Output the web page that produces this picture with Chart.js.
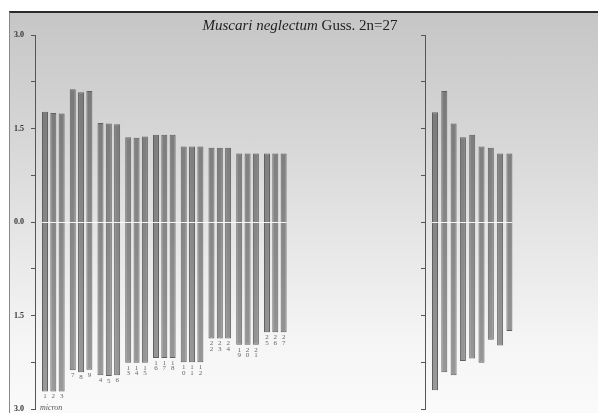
<!DOCTYPE html>
<html>
<head>
    <title>Muscari neglectum karyotype</title>
    <style>
        body {
            margin: 0;
            width: 598px;
            height: 413px;
            overflow: hidden;
            background: #fff;
            font-family: "Liberation Serif", "DejaVu Serif", serif;
        }
        .frame {
            position: absolute;
            left: 9px;
            top: 11px;
            width: 600px;
            height: 410px;
            border-top: 2px solid #2a2a2a;
            border-left: 1px solid #888;
            background: linear-gradient(to bottom, #c6c6c6 0%, #d6d6d6 30%, #e6e6e6 55%, #f5f5f5 80%, #fbfbfb 100%);
        }
        canvas {
            position: absolute;
            left: 0;
            top: 0;
        }
        .title {
            position: absolute;
            top: 17px;
            left: 0;
            width: 600px;
            text-align: center;
            font-size: 15px;
            color: #222;
        }
        .unit {
            position: absolute;
            left: 40px;
            top: 403px;
            font-size: 8px;
            font-style: italic;
            color: #555;
        }
    </style>
</head>
<body>
    <div class="frame"></div>
    <div style="position:absolute;left:0;top:0;width:598px;height:430px">
        <canvas id="karyo-chart"></canvas>
    </div>
    <div style="position:absolute;left:0;top:0;width:598px;height:430px">
        <canvas id="ideo-chart"></canvas>
    </div>
    <div class="title"><i>Muscari neglectum</i> Guss. 2n=27</div>
    <div class="unit">micron</div>

    <script src="https://cdn.jsdelivr.net/npm/chart.js"></script>
    <script>
        // chromosome numbers, in the order they are drawn (3 homologues per group)
        const chromLabels = ['1', '2', '3', '7', '8', '9', '4', '5', '6',
                             '13', '14', '15', '16', '17', '18', '10', '11', '12',
                             '22', '23', '24', '19', '20', '21', '25', '26', '27'];
        // short arm length (micron), drawn upward
        const shortArm = [1.77, 1.75, 1.74, 2.13, 2.08, 2.10, 1.59, 1.58, 1.57,
                          1.36, 1.35, 1.37, 1.40, 1.40, 1.40, 1.21, 1.21, 1.21,
                          1.19, 1.19, 1.19, 1.10, 1.10, 1.10, 1.10, 1.10, 1.10];
        // long arm length (micron), drawn downward
        const longArm = [2.72, 2.72, 2.72, 2.38, 2.41, 2.37, 2.46, 2.47, 2.46,
                         2.26, 2.26, 2.26, 2.18, 2.18, 2.18, 2.25, 2.25, 2.25,
                         1.87, 1.87, 1.87, 1.97, 1.97, 1.97, 1.77, 1.77, 1.77];
        // haploid ideogram (mean of each group)
        const ideoShort = [1.76, 2.10, 1.58, 1.36, 1.40, 1.21, 1.19, 1.10, 1.10];
        const ideoLong = [2.70, 2.41, 2.46, 2.23, 2.19, 2.26, 1.89, 1.98, 1.75];
        const yTicks = [-3, -1.5, 0, 1.5, 3];

        const perGroup = 3;
        const groupCount = chromLabels.length / perGroup;

        function barFill(context) {
            const chart = context.chart;
            const area = chart.chartArea;
            if (!area) return '#888';
            const g = chart.ctx.createLinearGradient(0, area.top, 0, area.bottom);
            g.addColorStop(0, '#747474');
            g.addColorStop(0.5, '#868686');
            g.addColorStop(1, '#9c9c9c');
            return g;
        }

        // white gap at the centromere
        const centromerePlugin = {
            id: 'centromere',
            afterDatasetsDraw(chart) {
                const ctx = chart.ctx;
                const y = Math.round(chart.scales.y.getPixelForValue(0)) + 0.5;
                let minX = Infinity, maxX = -Infinity;
                chart.data.datasets.forEach((ds, i) => {
                    chart.getDatasetMeta(i).data.forEach(bar => {
                        minX = Math.min(minX, bar.x - bar.width / 2);
                        maxX = Math.max(maxX, bar.x + bar.width / 2);
                    });
                });
                ctx.save();
                ctx.strokeStyle = 'rgba(255,255,255,0.9)';
                ctx.lineWidth = 1;
                ctx.beginPath();
                ctx.moveTo(minX, y);
                ctx.lineTo(maxX, y);
                ctx.stroke();
                ctx.restore();
            }
        };

        // chromosome numbers under each bar, digits stacked
        const numberPlugin = {
            id: 'numbers',
            afterDatasetsDraw(chart) {
                const ctx = chart.ctx;
                const yScale = chart.scales.y;
                ctx.save();
                ctx.fillStyle = '#666';
                ctx.font = '7px "Liberation Serif", serif';
                ctx.textAlign = 'center';
                ctx.textBaseline = 'middle';
                chart.data.datasets.forEach((ds, i) => {
                    chart.getDatasetMeta(i).data.forEach((bar, g) => {
                        const idx = g * perGroup + i;
                        const digits = chromLabels[idx].split('');
                        const base = yScale.getPixelForValue(-longArm[idx]);
                        digits.forEach((d, k) => {
                            ctx.fillText(d, bar.x, base + 5 + k * 5.5);
                        });
                    });
                });
                ctx.restore();
            }
        };

        function yScaleOptions(showLabels, width) {
            return {
                min: -3,
                max: 3,
                afterFit: s => { s.width = width; },
                afterBuildTicks: s => {
                    const t = [];
                    for (let v = -3; v <= 3; v += 0.75) t.push({ value: v });
                    s.ticks = t;
                },
                ticks: {
                    autoSkip: false,
                    padding: 7,
                    color: '#333',
                    font: { family: '"Liberation Serif", serif', size: 8, weight: 'bold' },
                    callback: v => (showLabels && yTicks.includes(v)) ? Math.abs(v).toFixed(1) : ''
                },
                grid: {
                    drawOnChartArea: false,
                    drawTicks: true,
                    tickLength: 4,
                    color: '#555'
                },
                border: { display: true, color: '#555', width: 1 }
            };
        }

        function createKaryotypeChart() {
            const datasets = [];
            for (let j = 0; j < perGroup; j++) {
                const points = [];
                for (let g = 0; g < groupCount; g++) {
                    const idx = g * perGroup + j;
                    points.push({ x: g, y: [-longArm[idx], shortArm[idx]] });
                }
                datasets.push({
                    data: points,
                    backgroundColor: barFill,
                    borderColor: '#606060',
                    borderWidth: 1,
                    borderSkipped: false,
                    categoryPercentage: 0.9,
                    barPercentage: 0.72
                });
            }

            const ctx = document.getElementById('karyo-chart').getContext('2d');
            new Chart(ctx, {
                type: 'bar',
                data: { datasets: datasets },
                options: {
                    responsive: true,
                    maintainAspectRatio: false,
                    animation: false,
                    layout: { padding: { left: 9, right: 298, top: 35, bottom: 21 } },
                    plugins: { legend: { display: false }, tooltip: { enabled: false } },
                    scales: {
                        x: { type: 'linear', display: false, offset: false, min: -0.66, max: 8.89 },
                        y: yScaleOptions(true, 26)
                    }
                },
                plugins: [centromerePlugin, numberPlugin]
            });
        }

        function createIdeogramChart() {
            const points = ideoShort.map((s, k) => ({ x: k, y: [-ideoLong[k], s] }));
            const ctx = document.getElementById('ideo-chart').getContext('2d');
            new Chart(ctx, {
                type: 'bar',
                data: {
                    datasets: [{
                        data: points,
                        backgroundColor: barFill,
                        borderColor: '#606060',
                        borderWidth: 1,
                        borderSkipped: false,
                        categoryPercentage: 1,
                        barPercentage: 0.645
                    }]
                },
                options: {
                    responsive: true,
                    maintainAspectRatio: false,
                    animation: false,
                    layout: { padding: { left: 415, right: 73, top: 35, bottom: 21 } },
                    plugins: { legend: { display: false }, tooltip: { enabled: false } },
                    scales: {
                        x: { type: 'linear', display: false, offset: false, min: -1.075, max: 9.675 },
                        y: yScaleOptions(false, 10)
                    }
                },
                plugins: [centromerePlugin]
            });
        }

        createKaryotypeChart();
        createIdeogramChart();
    </script>
</body>
</html>
